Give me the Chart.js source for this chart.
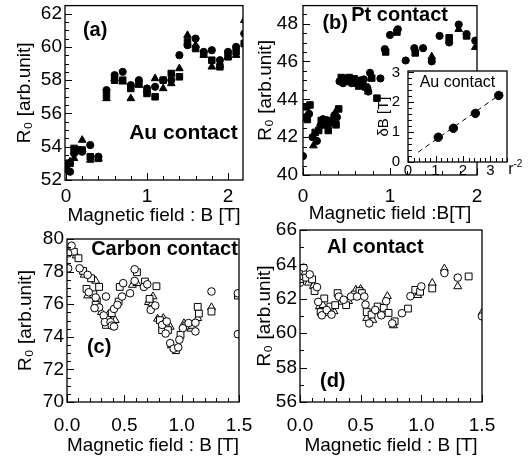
<!DOCTYPE html>
<html>
<head>
<meta charset="utf-8">
<script src="https://cdn.jsdelivr.net/npm/chart.js@4.4.1/dist/chart.umd.min.js"></script>
<style>
  html, body { margin: 0; padding: 0; background: #fff; overflow: hidden; }
  #wrap { position: relative; width: 529px; height: 464px; }
  canvas { position: absolute; }
</style>
</head>
<body>
<div id="wrap">
  <canvas id="chartA" width="265" height="232" style="left:0px;top:0px"></canvas>
  <canvas id="chartB" width="277" height="232" style="left:252px;top:0px"></canvas>
  <canvas id="chartC" width="265" height="236" style="left:0px;top:228px"></canvas>
  <canvas id="chartD" width="277" height="246" style="left:252px;top:218px"></canvas>
  <canvas id="chartIn" width="154" height="118" style="left:375px;top:62px"></canvas>
</div>
<script>
// (a) Au contact: three runs measured at the same fields
const aField = [0, 0.05, 0.1, 0.15, 0.2, 0.3, 0.4, 0.5, 0.6, 0.7, 0.8, 0.9, 1.0, 1.1, 1.2, 1.3, 1.4, 1.5, 1.6, 1.7, 1.8, 1.9, 2.0, 2.1, 2.2];
const aCircle = [52.7, 52.5, 53.6, 53.8, 53.7, 54.1, 53.4, 57.4, 58.3, 58.5, 57.7, 58.0, 57.5, 57.6, 58.0, 58.0, 59.5, 60.1, 60.5, 59.7, 59.8, 59.2, 59.7, 60.0, 60.8];
const aSquare = [53.0, 53.0, 53.9, 53.8, 53.8, 53.4, 53.3, 57.1, 58.0, 58.0, 57.5, 57.8, 57.2, 57.0, 58.0, 58.4, 58.2, 60.3, 59.9, 59.6, 59.2, 58.8, 59.4, 59.7, 60.2];
const aTriangle = [52.9, 53.1, 53.3, 53.7, 54.4, 53.2, 53.3, 56.9, 58.1, 57.9, 56.9, 57.7, 57.4, 58.1, 57.5, 57.8, 58.7, 60.7, 60.1, 59.5, 58.8, 58.9, 59.4, 59.5, 61.6];

// (b) Pt contact  [B, R0]
const bCircle = [[0.00,41.0],[0.02,43.05],[0.07,43.23],[0.11,42.0],[0.16,41.8],[0.20,42.6],[0.23,42.95],[0.27,42.9],[0.31,42.75],[0.36,43.15],[0.39,43.05],[0.42,44.95],[0.46,44.85],[0.51,44.95],[0.56,44.85],[0.61,44.85],[0.66,45.0],[0.70,45.05],[0.74,44.6],[0.75,44.41],[0.77,45.4],[0.89,45.1],[0.94,46.65],[1.00,47.4],[1.09,47.7],[1.18,46.05],[1.28,46.7],[1.38,46.7],[1.48,46.0],[1.57,47.35],[1.68,47.0],[1.79,47.95],[1.88,47.45],[1.98,47.1]];
const bSquare = [[0.04,43.6],[0.08,43.7],[0.05,42.93],[0.14,42.25],[0.18,42.35],[0.21,42.88],[0.26,42.65],[0.29,42.35],[0.33,42.88],[0.38,42.65],[0.41,43.49],[0.44,45.15],[0.49,45.08],[0.53,45.15],[0.59,45.08],[0.64,44.7],[0.68,44.8],[0.72,44.65],[0.79,45.12],[0.85,44.06],[0.95,46.5],[1.08,47.55],[1.29,46.45],[1.68,47.25],[1.88,47.35]];
const bTriangle = [[0.12,41.55],[0.37,43.3],[0.75,44.4],[1.48,46.25],[1.79,47.7],[1.98,46.75]];

// inset of (b): Au contact, dB vs r^-2
const inR2 = [1.10, 1.65, 2.45, 3.30];
const inDB = [0.83, 1.13, 1.63, 2.23];
const fitR2 = [0.37, 3.45];
const fitDB = [0.33, 2.33];

// (c) Carbon contact  [B, R0]
const cCircle = [[0.01,79.12],[0.04,79.59],[0.01,78.2],[0.11,78.2],[0.18,77.8],[0.19,76.73],[0.25,76.41],[0.28,75.8],[0.24,75.76],[0.32,75.31],[0.33,74.9],[0.38,74.9],[0.41,75.71],[0.39,74.69],[0.34,76.47],[0.44,75.96],[0.48,76.47],[0.49,77.29],[0.41,74.63],[0.55,76.67],[0.59,77.43],[0.59,78.14],[0.67,77.06],[0.70,77.22],[0.73,75.65],[0.77,75.92],[0.83,74.73],[0.87,74.94],[0.86,74.2],[0.90,73.61],[0.93,73.27],[0.97,73.35],[0.98,73.82],[1.01,74.53],[1.06,74.84],[1.12,74.86],[1.12,74.33],[1.26,76.78],[1.49,76.67],[1.49,74.16]];
const cSquare = [[0.06,79.22],[0.10,78.82],[0.14,78.04],[0.21,77.59],[0.17,76.94],[0.23,76.61],[0.26,76.2],[0.25,75.96],[0.28,77.06],[0.35,75.14],[0.39,75.45],[0.34,74.73],[0.45,76.16],[0.46,77.06],[0.61,77.96],[0.68,77.39],[0.72,76.33],[0.78,77.1],[0.81,75.02],[0.86,74.78],[0.83,74.41],[0.88,74.41],[0.95,73.18],[0.99,74.12],[1.04,74.69],[1.09,74.73],[1.15,75.43],[1.14,75.84],[1.26,75.55],[1.49,76.53]];
const cTriangle = [[0.03,79.39],[0.08,78.98],[0.15,77.8],[0.25,77.43],[0.18,76.53],[0.30,75.51],[0.36,75.35],[0.42,75.02],[0.57,77.18],[0.61,77.29],[0.71,76.12],[0.74,76.04],[0.75,76.47],[0.79,75.1],[0.84,75.14],[0.90,74.61],[0.91,73.47],[1.02,74.82],[1.08,74.49],[1.14,75.14],[1.26,75.8]];

// (d) Al contact  [B, R0]
const dCircle = [[0.00,62.93],[0.03,63.81],[0.08,63.42],[0.14,62.68],[0.15,61.82],[0.18,61.04],[0.22,61.35],[0.26,61.08],[0.32,62.13],[0.36,61.94],[0.42,62.13],[0.47,62.13],[0.53,62.13],[0.54,61.66],[0.57,60.57],[0.62,61.35],[0.67,61.04],[0.71,61.86],[0.76,60.57],[0.84,61.16],[0.91,62.15],[1.00,62.72],[1.19,63.5],[1.30,63.23],[1.50,60.98]];
const dSquare = [[0.05,63.23],[0.10,63.13],[0.12,62.45],[0.17,61.23],[0.20,62.02],[0.25,61.55],[0.29,61.63],[0.31,62.33],[0.38,61.63],[0.45,62.25],[0.49,62.45],[0.51,62.33],[0.55,61.23],[0.59,61.08],[0.64,61.55],[0.69,61.47],[0.73,61.18],[0.78,60.69],[0.89,61.43],[0.95,62.52],[0.99,62.41],[1.09,62.6],[1.39,63.3]];
const dTriangle = [[0.04,63.52],[0.07,62.93],[0.11,62.74],[0.16,61.55],[0.19,61.63],[0.23,61.16],[0.28,61.27],[0.34,61.82],[0.40,61.86],[0.46,62.52],[0.50,62.56],[0.55,60.88],[0.60,60.77],[0.65,61.27],[0.72,62.15],[0.77,60.45],[0.94,62.33],[0.97,62.21],[1.09,62.91],[1.19,63.75],[1.30,62.72],[1.50,61.18]];

const abTicksX = [0, 1, 2];
const aTicksY = [52, 54, 56, 58, 60, 62];
const bTicksY = [40, 42, 44, 46, 48];
const cdTicksX = [0, 0.5, 1.0, 1.5];
const cTicksY = [70, 72, 74, 76, 78, 80];
const dTicksY = [56, 58, 60, 62, 64, 66];
const inTicks = [0, 1, 2, 3];

Chart.defaults.font.family = "'Liberation Sans', Arial, Helvetica, sans-serif";
Chart.defaults.color = '#000';

const FONT = "'Liberation Sans', Arial, sans-serif";

// box round the plot area and short ticks pointing inwards
const framePlugin = {
  id: 'frame',
  beforeDraw(chart, args, o) {
    if (!o.fill) return;
    const a = chart.chartArea, ctx = chart.ctx;
    ctx.save();
    ctx.fillStyle = '#fff';
    ctx.fillRect(a.left, a.top, a.right - a.left, a.bottom - a.top);
    ctx.restore();
  },
  afterDatasetsDraw(chart, args, o) {
    const ctx = chart.ctx, a = chart.chartArea, x = chart.scales.x, y = chart.scales.y;
    ctx.save();
    ctx.strokeStyle = '#000';
    ctx.lineWidth = 1.3;
    ctx.strokeRect(a.left, a.top, a.right - a.left, a.bottom - a.top);
    ctx.lineWidth = 1;
    ctx.beginPath();
    for (let i = Math.ceil(x.min / o.xStep - 1e-6); i * o.xStep <= x.max + 1e-9; i++) {
      const v = i * o.xStep, px = Math.round(x.getPixelForValue(v)) + 0.5;
      const major = Math.abs(v / o.xMajor - Math.round(v / o.xMajor)) < 1e-6;
      ctx.moveTo(px, a.bottom);
      ctx.lineTo(px, a.bottom - (major ? o.big : o.small));
    }
    for (let i = Math.ceil(y.min / o.yStep - 1e-6); i * o.yStep <= y.max + 1e-9; i++) {
      const v = i * o.yStep, py = Math.round(y.getPixelForValue(v)) + 0.5;
      const major = Math.abs(v / o.yMajor - Math.round(v / o.yMajor)) < 1e-6;
      ctx.moveTo(a.left, py);
      ctx.lineTo(a.left + (major ? o.big : o.small), py);
    }
    ctx.stroke();
    ctx.restore();
  }
};

// text labels inside the panels, placed in data units
const notesPlugin = {
  id: 'notes',
  afterDraw(chart, args, o) {
    const ctx = chart.ctx, x = chart.scales.x, y = chart.scales.y;
    ctx.save();
    ctx.fillStyle = '#000';
    ctx.textAlign = 'center';
    ctx.textBaseline = 'middle';
    (o.items || []).forEach(n => {
      const px = x.getPixelForValue(n.x), py = y.getPixelForValue(n.y);
      ctx.font = (n.bold ? 'bold ' : '') + n.size + 'px ' + FONT;
      ctx.fillText(n.text, px, py);
      if (n.sup) {
        const w = ctx.measureText(n.text).width;
        ctx.font = Math.round(n.size * 0.65) + 'px ' + FONT;
        ctx.textAlign = 'left';
        ctx.fillText(n.sup, px + w / 2, py - n.size * 0.35);
        ctx.textAlign = 'center';
      }
    });
    ctx.restore();
  }
};

function toPts(xs, ys) {
  return xs.map((v, i) => ({ x: v, y: ys[i] }));
}
function fromPairs(list) {
  return list.map(p => ({ x: p[0], y: p[1] }));
}

function markers(sets, hollow, r) {
  const styles = ['circle', 'rect', 'triangle'];
  const sizes = [r, r + 1, r + 0.8];
  return sets.map((d, i) => ({
    data: d,
    showLine: false,
    pointStyle: styles[i],
    pointRadius: sizes[i],
    pointBackgroundColor: hollow ? '#fff' : '#000',
    pointBorderColor: '#000',
    pointBorderWidth: 1
  }));
}

function panel(id, p) {
  const tickFmt = p.fmt || (v => String(v));
  return new Chart(document.getElementById(id), {
    type: 'scatter',
    data: { datasets: p.sets },
    options: {
      responsive: false,
      animation: false,
      layout: { padding: p.pad },
      plugins: {
        legend: { display: false },
        tooltip: { enabled: false },
        frame: p.frame,
        notes: { items: p.notes }
      },
      scales: {
        x: {
          type: 'linear', min: p.x.min, max: p.x.max,
          grid: { display: false, drawTicks: false },
          border: { display: false },
          afterBuildTicks: s => { s.ticks = p.x.ticks.map(v => ({ value: v })); },
          afterFit: s => { s.height = p.x.h; s.paddingLeft = 0; s.paddingRight = 0; },
          ticks: { font: { size: p.x.size }, padding: p.x.tp, maxRotation: 0, callback: tickFmt },
          title: { display: !!p.x.title, text: p.x.title, font: { size: p.x.size }, padding: { top: 0, bottom: p.x.pb } }
        },
        y: {
          type: 'linear', min: p.y.min, max: p.y.max,
          grid: { display: false, drawTicks: false },
          border: { display: false },
          afterBuildTicks: s => { s.ticks = p.y.ticks.map(v => ({ value: v })); },
          afterFit: s => { s.width = p.y.w; s.paddingTop = 0; s.paddingBottom = 0; },
          ticks: { font: { size: p.y.size }, padding: p.y.tp, callback: v => String(v) },
          title: { display: true, text: p.y.title, font: { size: p.y.size }, padding: { top: p.y.pt, bottom: 0 } }
        }
      }
    },
    plugins: [framePlugin, notesPlugin]
  });
}

const yTitle = 'R\u2080 [arb.unit]';

panel('chartA', {
  sets: markers([toPts(aField, aCircle), toPts(aField, aSquare), toPts(aField, aTriangle)], false, 3.6),
  pad: { left: 0, top: 5, right: 22, bottom: 0 },
  x: { min: -0.012, max: 2.185, ticks: abTicksX, h: 52, size: 19, tp: 5, title: 'Magnetic field : B [T]', pb: 4.6 },
  y: { min: 52, max: 62.48, ticks: aTicksY, w: 65, size: 19, tp: 3, title: yTitle, pt: 13 },
  frame: { xStep: 0.2, xMajor: 1, yStep: 0.5, yMajor: 2, small: 4, big: 7 },
  notes: [
    { text: '(a)', x: 0.36, y: 61.0, bold: true, size: 20 },
    { text: 'Au contact', x: 1.45, y: 54.8, bold: true, size: 21 }
  ]
});

panel('chartB', {
  sets: markers([fromPairs(bCircle), fromPairs(bSquare), fromPairs(bTriangle)], false, 3.6),
  pad: { left: 0, top: 5, right: 52, bottom: 0 },
  x: { min: 0, max: 2, ticks: abTicksX, h: 57, size: 19, tp: 10.6, title: 'Magnetic field :B[T]', pb: 7 },
  y: { min: 40, max: 48.95, ticks: bTicksY, w: 51, size: 19, tp: 5, title: yTitle, pt: 2.6 },
  frame: { xStep: 0.2, xMajor: 1, yStep: 0.5, yMajor: 2, small: 4, big: 7 },
  notes: [
    { text: '(b)', x: 0.37, y: 48.0, bold: true, size: 20 },
    { text: 'Pt contact', x: 1.11, y: 48.42, bold: true, size: 20 }
  ]
});

panel('chartC', {
  sets: markers([fromPairs(cCircle), fromPairs(cSquare), fromPairs(cTriangle)], true, 3.8),
  pad: { left: 0, top: 11, right: 26, bottom: 0 },
  x: { min: 0, max: 1.5, ticks: cdTicksX, h: 62, size: 19, tp: 12.6, title: 'Magnetic field : B [T]', pb: 6.6 },
  y: { min: 70, max: 80, ticks: cTicksY, w: 67, size: 19, tp: 3, title: yTitle, pt: 14.6 },
  frame: { xStep: 0.1, xMajor: 0.5, yStep: 0.5, yMajor: 2, small: 4, big: 7 },
  fmt: v => v.toFixed(1),
  notes: [
    { text: 'Carbon contact', x: 0.85, y: 79.35, bold: true, size: 20 },
    { text: '(c)', x: 0.28, y: 73.37, bold: true, size: 20 }
  ]
});

panel('chartD', {
  sets: markers([fromPairs(dCircle), fromPairs(dSquare), fromPairs(dTriangle)], true, 3.8),
  pad: { left: 0, top: 12, right: 47, bottom: 0 },
  x: { min: 0, max: 1.5, ticks: cdTicksX, h: 62, size: 19, tp: 12.6, title: 'Magnetic field : B [T]', pb: 6.6 },
  y: { min: 56, max: 66, ticks: dTicksY, w: 48, size: 19, tp: 3, title: yTitle, pt: 1.6 },
  frame: { xStep: 0.1, xMajor: 0.5, yStep: 1, yMajor: 2, small: 4, big: 7 },
  fmt: v => v.toFixed(1),
  notes: [
    { text: 'Al contact', x: 0.62, y: 64.98, bold: true, size: 20 },
    { text: '(d)', x: 0.27, y: 57.17, bold: true, size: 20 }
  ]
});

const insetSets = [
  { data: toPts(inR2, inDB), showLine: false, pointStyle: 'circle', pointRadius: 4.2,
    pointBackgroundColor: '#000', pointBorderColor: '#000' },
  { type: 'line', data: toPts(fitR2, fitDB), showLine: true, borderColor: '#000', borderWidth: 1,
    borderDash: [5, 4], pointRadius: 0, fill: false }
];

panel('chartIn', {
  sets: insetSets,
  pad: { left: 0, top: 9, right: 22, bottom: 0 },
  x: { min: 0, max: 3.6, ticks: inTicks, h: 18, size: 15, tp: 0, title: '', pb: 0 },
  y: { min: 0, max: 3.05, ticks: inTicks, w: 33, size: 15, tp: 8, title: '\u03b4B [T]', pt: 0 },
  frame: { xStep: 0.2, xMajor: 1, yStep: 0.2, yMajor: 1, small: 4, big: 6, fill: true },
  notes: [
    { text: 'Au contact', x: 1.8, y: 2.67, bold: false, size: 16 },
    { text: 'r', x: 3.74, y: -0.27, bold: false, size: 16, sup: '-2' }
  ]
});
</script>
</body>
</html>
